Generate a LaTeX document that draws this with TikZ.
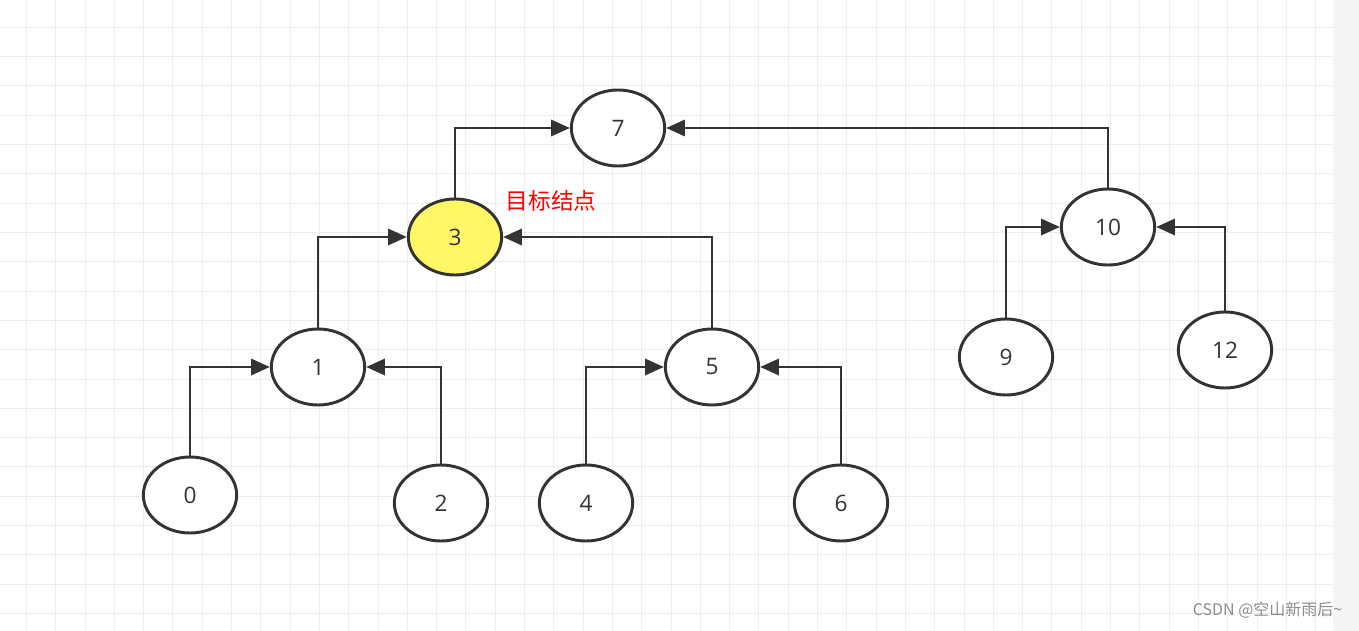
\documentclass[tikz,border=0pt]{standalone}
\usepackage{fontspec}
\setmainfont{Open Sans}
\newfontfamily\cjk{Noto Sans CJK SC}
\usetikzlibrary{arrows.meta,shapes.geometric}
\begin{document}
\begin{tikzpicture}[x=0.75pt,y=-0.75pt,
  nd/.style={ellipse,draw=black!80,line width=2.2pt,fill=white,minimum width=70pt,minimum height=57pt,inner sep=0pt,font=\fontsize{17}{17}\selectfont,text=black!80},
  ar/.style={line width=2.2pt,draw=black!80,-{Triangle[length=14pt,width=12pt]}}]
\useasboundingbox (0,0) rectangle (1359,631);
\fill[white] (0,0) rectangle (1359,631);
\foreach \i in {0,...,46} {\draw[black!7,line width=0.6pt] (\i*29.3-3,0) -- (\i*29.3-3,631);}
\foreach \j in {0,...,22} {\draw[black!7,line width=0.6pt] (0,\j*29.3-2) -- (1333,\j*29.3-2);}
\fill[black!4] (1333,0) rectangle (1359,631);
\node[nd] (n7) at (618,128) {7};
\node[nd,fill=yellow!60] (n3) at (455,237) {3};
\node[nd] (n10) at (1108,227) {10};
\node[nd] (n1) at (318,367) {1};
\node[nd] (n5) at (712,367) {5};
\node[nd] (n9) at (1006,357) {9};
\node[nd] (n12) at (1225,350) {12};
\node[nd] (n0) at (190,495) {0};
\node[nd] (n2) at (441,503) {2};
\node[nd] (n4) at (586,503) {4};
\node[nd] (n6) at (841,503) {6};
\draw[ar] (n3.north) |- (n7.west);
\draw[ar] (n10.north) |- (n7.east);
\draw[ar] (n1.north) |- (n3.west);
\draw[ar] (n5.north) |- (n3.east);
\draw[ar] (n0.north) |- (n1.west);
\draw[ar] (n2.north) |- (n1.east);
\draw[ar] (n4.north) |- (n5.west);
\draw[ar] (n6.north) |- (n5.east);
\draw[ar] (n9.north) |- (n10.west);
\draw[ar] (n12.north) |- (n10.east);
\node[text=red,font=\cjk\fontsize{17}{17}\selectfont] (lbl) at (551,201) {目标结点};
\node[text=black!45,font=\cjk\fontsize{12}{12}\selectfont,anchor=east] (wm) at (1347,610) {CSDN @空山新雨后\textasciitilde};
\end{tikzpicture}
\end{document}
